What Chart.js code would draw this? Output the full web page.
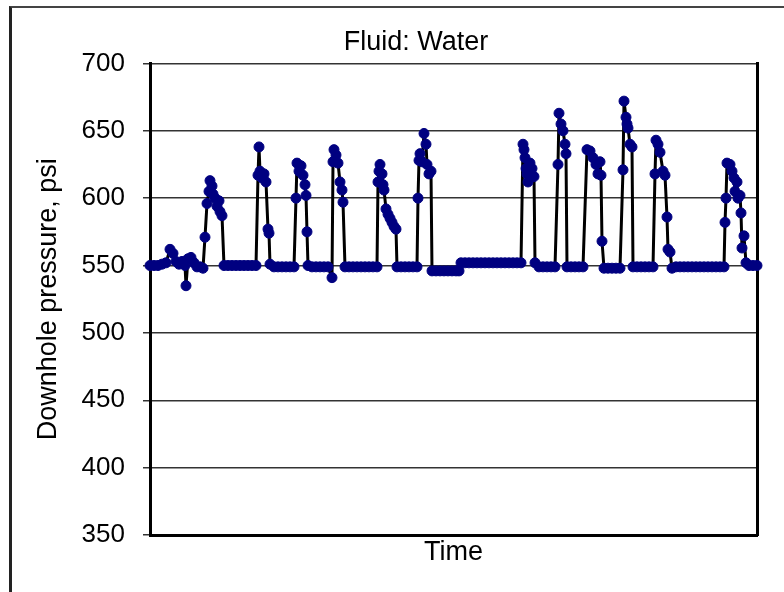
<!DOCTYPE html>
<html>
<head>
<meta charset="utf-8">
<script src="https://cdn.jsdelivr.net/npm/chart.js@4"></script>
<style>
  html, body { margin: 0; padding: 0; background: #fff; overflow: hidden; }
  #frame { position: absolute; left: 9px; top: 6px; width: 900px; height: 700px;
           border-left: 3px solid #222; border-top: 2px solid #444; }
  #chart { position: absolute; left: 0; top: 0; }
</style>
</head>
<body>
<div id="frame"></div>
<canvas id="chart" width="832" height="592"></canvas>
<script>
// time in arbitrary units (axis has no tick labels), pressure in psi
const time = [
    0, 4, 8, 12, 16, 20, 23, 26, 29, 32, 35, 36, 38, 41, 44, 47, 50, 53, 55, 57,
    59, 60, 62, 63, 65, 67, 69, 70, 72, 74, 78, 82, 86, 90, 94, 98, 102, 106,
    108, 109, 110, 112, 114, 116, 118, 119, 120, 124, 128, 132, 136, 140, 144,
    146, 147, 149, 151, 153, 155, 156, 157, 158, 162, 166, 170, 174, 178,
    182, 183, 184, 186, 188, 190, 192, 193, 195,
    199, 203, 207, 211, 215, 219, 223, 227,
    228, 229, 230, 232, 233, 234, 236, 238, 240, 242, 244, 246, 247,
    251, 255, 259, 263, 267,
    268, 269, 270, 272, 274, 276, 277, 279, 281, 282,
    286, 290, 294, 298, 302, 306, 309, 311, 315, 319, 323, 327, 331, 335, 339,
    343, 347, 351, 355, 359, 363, 367, 371,
    373, 374, 375, 376, 377, 378, 380, 382, 384, 385, 389, 393, 397, 401, 405,
    408, 409, 411, 413, 415, 416, 417, 421, 425, 429, 433,
    437, 440, 443, 446, 448, 450, 451, 452, 454, 458, 462, 466, 470,
    473, 474, 476, 477, 478, 480, 482, 483, 487, 491, 495, 499, 503,
    505, 506, 508, 510, 513, 515, 517, 518, 520, 522,
    526, 530, 534, 538, 542, 546, 550, 554, 558, 562, 566, 570, 574,
    575, 576, 577, 580, 582, 584, 585, 587, 588, 590, 591, 592, 594, 596,
    599, 603, 607
];
const pressure = [
    550, 550, 550, 551, 552, 562, 559, 553, 551, 553, 550, 535, 555, 556, 552, 549, 549, 548, 571, 596,
    605, 613, 609, 603, 600, 594, 598, 590, 587, 550, 550, 550, 550, 550, 550, 550, 550, 550,
    617, 638, 620, 615, 618, 612, 577, 574, 551, 549, 549, 549, 549, 549, 549,
    600, 626, 620, 624, 617, 610, 602, 575, 550, 549, 549, 549, 549, 549,
    541, 627, 636, 632, 626, 612, 606, 597, 549,
    549, 549, 549, 549, 549, 549, 549, 549,
    612, 620, 625, 618, 610, 606, 592, 588, 585, 582, 579, 577, 549,
    549, 549, 549, 549, 549,
    600, 628, 633, 627, 648, 640, 625, 618, 620, 546,
    546, 546, 546, 546, 546, 546, 546, 552, 552, 552, 552, 552, 552, 552, 552,
    552, 552, 552, 552, 552, 552, 552, 552,
    640, 636, 630, 622, 618, 612, 626, 622, 616, 552, 549, 549, 549, 549, 549,
    625, 663, 655, 650, 640, 633, 549, 549, 549, 549, 549,
    636, 635, 630, 625, 618, 627, 617, 568, 548, 548, 548, 548, 548,
    621, 672, 660, 655, 652, 640, 638, 549, 549, 549, 549, 549, 549,
    618, 643, 640, 634, 620, 617, 586, 562, 560, 548,
    549, 549, 549, 549, 549, 549, 549, 549, 549, 549, 549, 549, 549,
    582, 600, 626, 625, 620, 615, 605, 612, 600, 602, 589, 563, 572, 552,
    550, 550, 550
];

const yMin = 350;
const yMax = 700;
const yStep = 50;
const family = "'Liberation Sans', Arial, sans-serif";

const points = time.map((t, i) => ({x: t, y: pressure[i]}));

new Chart(document.getElementById('chart'), {
    type: 'line',
    data: {
        datasets: [{
            data: points,
            borderColor: '#000',
            borderWidth: 3,
            borderJoinStyle: 'round',
            tension: 0,
            pointRadius: 5,
            pointHoverRadius: 5,
            pointBackgroundColor: '#000080',
            pointBorderColor: '#000080',
            pointBorderWidth: 1,
            clip: false,
        }]
    },
    options: {
        responsive: false,
        animation: false,
        layout: { padding: 0 },
        plugins: {
            legend: { display: false },
            tooltip: { enabled: false },
            title: {
                display: true,
                text: 'Fluid: Water',
                color: '#000',
                font: { family, size: 27, weight: 'normal' },
                padding: { top: 26, bottom: 5 },
            },
        },
        scales: {
            x: {
                type: 'linear',
                min: time[0],
                max: time[time.length - 1],
                ticks: { display: false },
                grid: { display: false },
                border: { display: true, color: '#000', width: 3 },
                title: {
                    display: true,
                    text: 'Time',
                    color: '#000',
                    font: { family, size: 27 },
                    padding: { top: 0, bottom: 23 },
                },
                afterFit: s => { s.height = 57; },
            },
            y: {
                min: yMin,
                max: yMax,
                ticks: { stepSize: yStep, color: '#000', font: { family, size: 26 }, padding: 18 },
                grid: { color: '#333', lineWidth: 1.5, tickLength: 7 },
                border: { display: true, color: '#000', width: 3 },
                title: {
                    display: true,
                    text: 'Downhole pressure, psi',
                    color: '#000',
                    font: { family, size: 27 },
                    padding: { top: 32, bottom: 0 },
                },
                afterFit: s => { s.width = 150; },
            },
            y2: {
                position: 'right',
                ticks: { display: false },
                grid: { display: false, drawTicks: false },
                border: { display: true, color: '#000', width: 3 },
                afterFit: s => { s.width = 75; },
            },
        },
    },
});
</script>
</body>
</html>
